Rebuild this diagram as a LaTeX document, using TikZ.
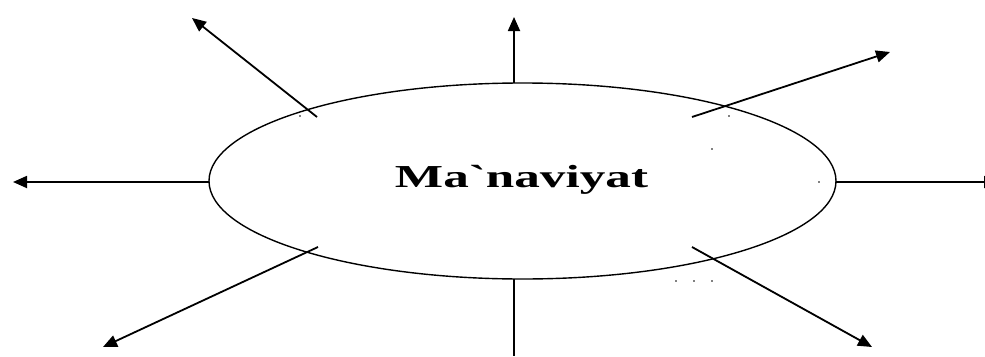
\documentclass[tikz,border=0pt]{standalone}
\usepackage{fontspec}
\newfontfamily\tnr{Liberation Serif}[Ligatures=TeXOff]
\usetikzlibrary{arrows.meta,shapes.geometric}
\tikzset{
  ray/.style={line width=1.8pt,-{Triangle[length=14pt,width=12pt]}},
  plainray/.style={line width=1.8pt},
  oval/.style={ellipse,draw,line width=1.4pt,minimum width=627pt,minimum height=196pt,inner sep=0pt},
  speck/.style={circle,fill,inner sep=0pt,minimum size=1.6pt}
}
\begin{document}
\begin{tikzpicture}[x=1pt,y=-1pt]
\useasboundingbox (0,0) rectangle (985,356);
\node[oval] (m) at (522.5,181) {};
\node[font=\tnr\bfseries\fontsize{32}{36}\selectfont] (t) at (521.5,180) {\scalebox{1.6}[1]{Ma`naviyat}};
% start points
\coordinate (sTop) at (514,83);
\coordinate (sBot) at (514,279);
\coordinate (sL) at (209,182);
\coordinate (sR) at (836,182);
\coordinate (sUL) at (317,117);
\coordinate (sUR) at (692,117);
\coordinate (sLL) at (318,247);
\coordinate (sLR) at (692,247);
% end points
\coordinate (eTop) at (514,17);
\coordinate (eBot) at (514,356);
\coordinate (eL) at (13,182);
\coordinate (eR) at (998,182);
\coordinate (eUL) at (192,18);
\coordinate (eUR) at (890,52);
\coordinate (eLL) at (103,347);
\coordinate (eLR) at (872,347);
\draw[ray] (sTop) -- (eTop);
\draw[plainray] (sBot) -- (eBot);
\draw[ray] (sL) -- (eL);
\draw[ray] (sR) -- (eR);
\draw[ray] (sUL) -- (eUL);
\draw[ray] (sUR) -- (eUR);
\draw[ray] (sLL) -- (eLL);
\draw[ray] (sLR) -- (eLR);
% small specks
\node[speck] (d1) at (300,116) {};
\node[speck] (d2) at (729,116) {};
\node[speck] (d3) at (712,149) {};
\node[speck] (d4) at (819,182) {};
\node[speck] (d5) at (676,281) {};
\node[speck] (d6) at (694,281) {};
\node[speck] (d7) at (712,281) {};
\end{tikzpicture}
\end{document}
